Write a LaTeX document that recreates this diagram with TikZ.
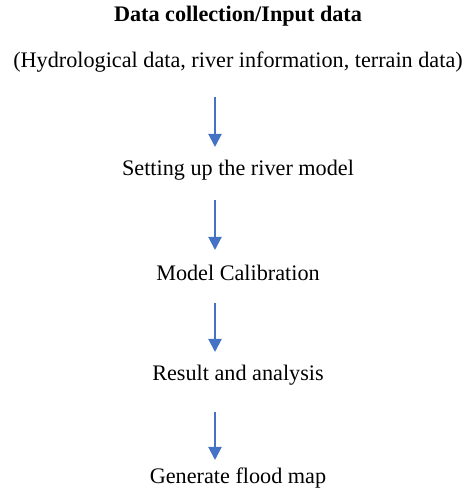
\documentclass[tikz,border=0pt]{standalone}
\usepackage{fontspec}
\setmainfont{Liberation Serif}
\usepackage{xcolor}
\usetikzlibrary{arrows.meta}

\definecolor{arrowblue}{HTML}{4472C4}

\begin{document}
\begin{tikzpicture}[x=1pt,y=1pt,
  every node/.style={font=\fontsize{22.2}{26}\selectfont, inner sep=0pt},
  flow/.style={draw=arrowblue, line width=2pt, -{Triangle[width=13pt,length=13pt]},
    shorten <=30pt, shorten >=23pt}]
\useasboundingbox (0,0) rectangle (470,493);

\node (title) at (238,477) {\textbf{Data collection/Input data}};
\node (inputs) at (238,431) {(Hydrological data, river information, terrain data)};
\node (setup) at (238,323) {Setting up the river model};
\node (calib) at (238,220) {Model Calibration};
\node (result) at (238,118) {Result and analysis};
\node (floodmap) at (238,15) {Generate flood map};

% arrows sit left of the text centre
\draw [flow, shorten <=35pt] ([xshift=-23pt]inputs.center) -- ([xshift=-23pt]setup.center);
\draw [flow] ([xshift=-23pt]setup.center) -- ([xshift=-23pt]calib.center);
\draw [flow] ([xshift=-23pt]calib.center) -- ([xshift=-23pt]result.center);
\draw [flow, shorten <=37pt, shorten >=18pt] ([xshift=-23pt]result.center) -- ([xshift=-23pt]floodmap.center);
\end{tikzpicture}
\end{document}
